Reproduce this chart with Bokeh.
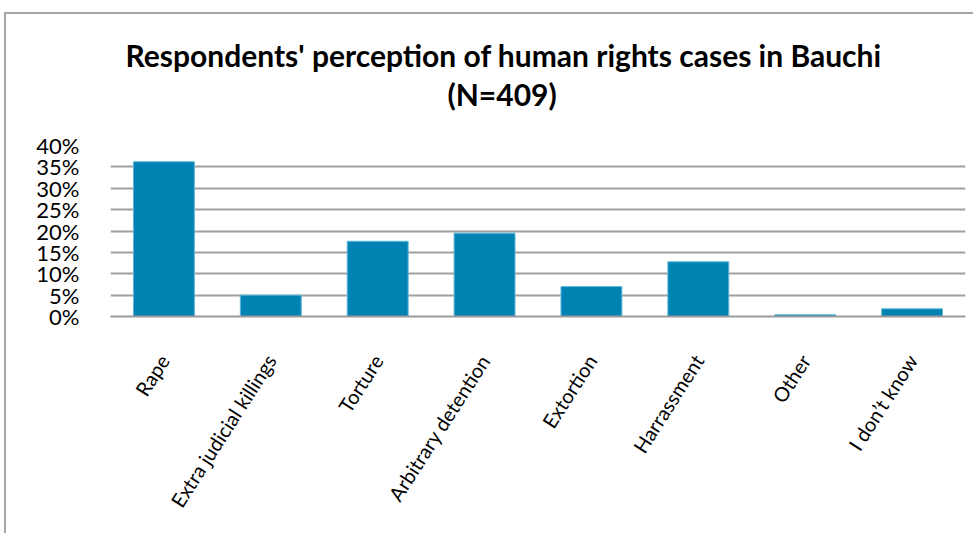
from bokeh.plotting import figure
from bokeh.models import Title, FixedTicker, Range1d
from bokeh.embed import file_html
from bokeh.resources import INLINE

categories = ["Rape", "Extra judicial killings", "Torture", "Arbitrary detention",
              "Extortion", "Harrassment", "Other", "I don\u2019t know"]
values = [36.2, 5.0, 17.6, 19.5, 7.0, 12.8, 0.4, 1.8]
y_ticks = [0, 5, 10, 15, 20, 25, 30, 35, 40]
tick_labels = {t: f"{t}%" for t in y_ticks}

p = figure(x_range=categories, y_range=Range1d(0, 40), width=969, height=521,
           output_backend="svg", toolbar_location=None,
           min_border_left=104, min_border_right=10, min_border_top=131,
           min_border_bottom=219)
p.styles = {"border-left": "2px solid #a6a6a6", "border-top": "2px solid #a6a6a6",
            "margin-left": "4px", "margin-top": "12px"}

p.vbar(x=categories, top=values, width=0.57, fill_color="#0083b3",
       line_color="#5fb8d8", line_width=1)

t2 = Title(text="(N=409)", align="left", text_font="Lato", text_font_size="30px",
           text_font_style="bold", text_color="#000000", standoff=68, offset=337)
t1 = Title(text="Respondents' perception of human rights cases in Bauchi", align="left",
           text_font="Lato", text_font_size="30px", text_font_style="bold",
           text_color="#000000", standoff=-67, offset=15)
p.add_layout(t2, "above")
p.add_layout(t1, "above")

p.yaxis.ticker = FixedTicker(ticks=y_ticks)
p.yaxis.major_label_overrides = tick_labels
p.yaxis.axis_line_color = None
p.yaxis.major_tick_line_color = None
p.yaxis.minor_tick_line_color = None
p.yaxis.major_label_text_font = "Lato"
p.yaxis.major_label_text_font_size = "22px"
p.yaxis.major_label_text_color = "#000000"
p.yaxis.major_label_standoff = 25

p.xaxis.axis_line_color = "#999999"
p.xaxis.axis_line_width = 2
p.xaxis.major_tick_line_color = None
p.xaxis.minor_tick_line_color = None
p.xaxis.major_label_orientation = 1.0
p.xaxis.major_label_text_font = "Lato"
p.xaxis.major_label_text_font_size = "20px"
p.xaxis.major_label_text_color = "#000000"
p.xaxis.major_label_standoff = 34

p.xgrid.grid_line_color = None
p.ygrid.grid_line_color = "#a0a0a0"
p.ygrid.grid_line_width = 2
p.ygrid.ticker = FixedTicker(ticks=y_ticks)
p.outline_line_color = None
p.x_range.range_padding = 0

open("out.html", "w").write(file_html(p, INLINE))
